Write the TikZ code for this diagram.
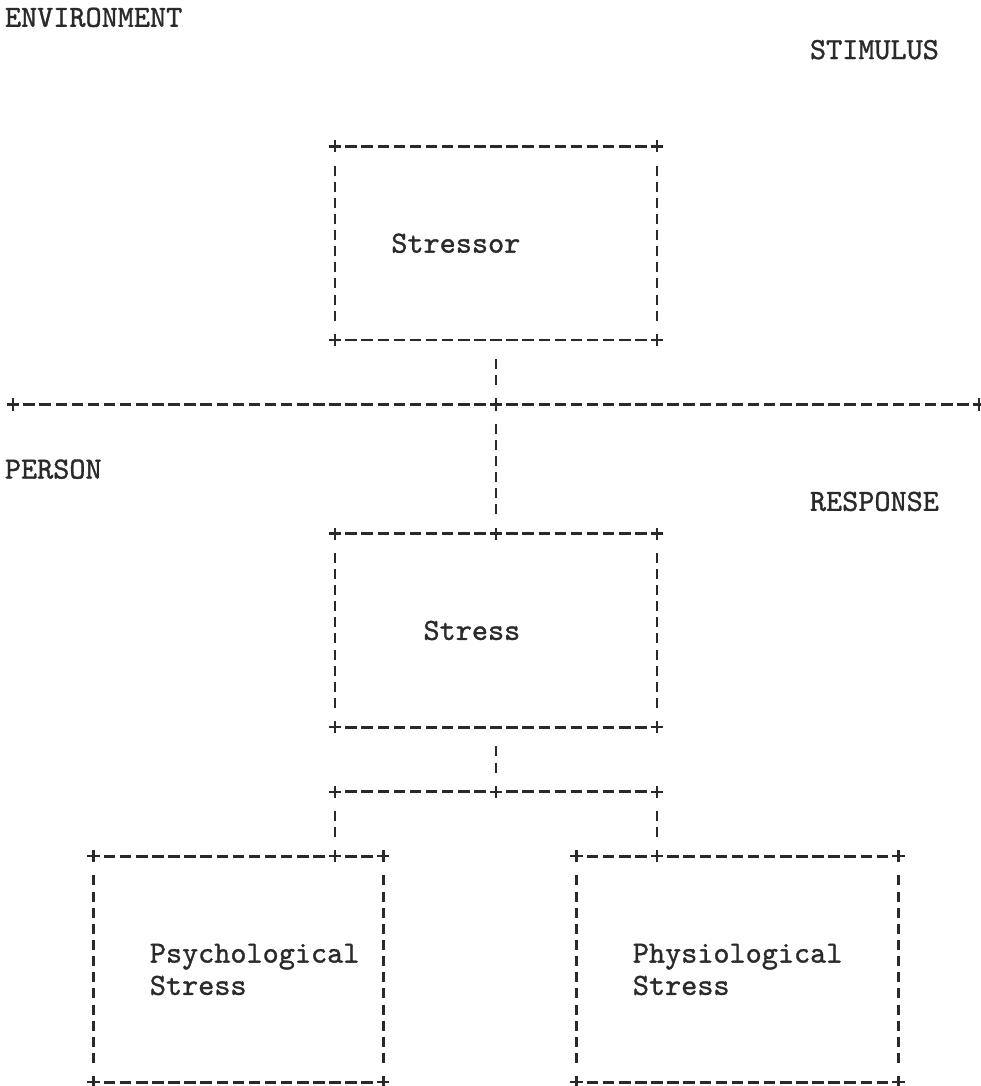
\documentclass[tikz,border=0pt]{standalone}
\usepackage{fontspec}
\usetikzlibrary{shapes.misc}
\newfontfamily\tw{lmmono10-regular.otf}[FakeBold=1.1]
\definecolor{ink}{HTML}{2A2A2A}
\begin{document}
\begin{tikzpicture}[x=1pt,y=-1pt,
  declare function={cx(\c)=13+16.1*\c; ry(\r)=404.5+32.27*\r;},
  txt/.style={anchor=base west,inner sep=0pt,outer sep=0pt,text=ink,font=\tw\fontsize{30.7}{32}\selectfont},
  plus/.style={cross out,draw=ink,line width=2.4pt,rotate=45,minimum size=8.6pt,inner sep=0pt,outer sep=0pt},
  hline/.style={ink,line width=2.8pt,dash pattern=on 11.5pt off 4.6pt,shorten <=10.35pt,shorten >=10.35pt},
  vline/.style={ink,line width=2.6pt,dash pattern=on 10pt off 6.135pt,shorten <=19.2pt,shorten >=19.2pt},
]
\fill[white] (0,0) rectangle (981,1086);
\useasboundingbox (0,0) rectangle (981,1086);

% ---- corner / junction marks ----
\node[plus] (sTL) at ({cx(20)},{ry(-8)}) {};
\node[plus] (sTR) at ({cx(40)},{ry(-8)}) {};
\node[plus] (sBL) at ({cx(20)},{ry(-2)}) {};
\node[plus] (sBR) at ({cx(40)},{ry(-2)}) {};
\coordinate (sBM) at ({cx(30)},{ry(-2)});

\node[plus] (L0) at ({cx(0)},{ry(0)}) {};
\node[plus] (Lm) at ({cx(30)},{ry(0)}) {};
\node[plus] (L60) at ({cx(60)},{ry(0)}) {};

\node[plus] (tTL) at ({cx(20)},{ry(4)}) {};
\node[plus] (tTM) at ({cx(30)},{ry(4)}) {};
\node[plus] (tTR) at ({cx(40)},{ry(4)}) {};
\node[plus] (tBL) at ({cx(20)},{ry(10)}) {};
\node[plus] (tBR) at ({cx(40)},{ry(10)}) {};
\coordinate (tBM) at ({cx(30)},{ry(10)});

\node[plus] (jL) at ({cx(20)},{ry(12)}) {};
\node[plus] (jM) at ({cx(30)},{ry(12)}) {};
\node[plus] (jR) at ({cx(40)},{ry(12)}) {};

\node[plus] (pTL) at ({cx(5)},{ry(14)}) {};
\node[plus] (pTM) at ({cx(20)},{ry(14)}) {};
\node[plus] (pTR) at ({cx(23)},{ry(14)}) {};
\node[plus] (pBL) at ({cx(5)},{ry(21)}) {};
\node[plus] (pBR) at ({cx(23)},{ry(21)}) {};

\node[plus] (qTL) at ({cx(35)},{ry(14)}) {};
\node[plus] (qTM) at ({cx(40)},{ry(14)}) {};
\node[plus] (qTR) at ({cx(55)},{ry(14)}) {};
\node[plus] (qBL) at ({cx(35)},{ry(21)}) {};
\node[plus] (qBR) at ({cx(55)},{ry(21)}) {};

% ---- Stressor box ----
\draw[hline] (sTL.center) -- (sTR.center);
\draw[hline] (sBL.center) -- (sBR.center);
\draw[vline] (sTL.center) -- (sBL.center);
\draw[vline] (sTR.center) -- (sBR.center);

% ---- connector and boundary line ----
\draw[vline] (sBM) -- (Lm.center);
\draw[vline] (Lm.center) -- (tTM.center);
\draw[hline] (L0.center) -- (Lm.center);
\draw[hline] (Lm.center) -- (L60.center);

% ---- Stress box ----
\draw[hline] (tTL.center) -- (tTM.center);
\draw[hline] (tTM.center) -- (tTR.center);
\draw[hline] (tBL.center) -- (tBR.center);
\draw[vline] (tTL.center) -- (tBL.center);
\draw[vline] (tTR.center) -- (tBR.center);

% ---- split ----
\draw[vline] (tBM) -- (jM.center);
\draw[hline] (jL.center) -- (jM.center);
\draw[hline] (jM.center) -- (jR.center);
\draw[vline] (jL.center) -- (pTM.center);
\draw[vline] (jR.center) -- (qTM.center);

% ---- Psychological box ----
\draw[hline] (pTL.center) -- (pTM.center);
\draw[hline] (pTM.center) -- (pTR.center);
\draw[hline] (pBL.center) -- (pBR.center);
\draw[vline] (pTL.center) -- (pBL.center);
\draw[vline] (pTR.center) -- (pBR.center);

% ---- Physiological box ----
\draw[hline] (qTL.center) -- (qTM.center);
\draw[hline] (qTM.center) -- (qTR.center);
\draw[hline] (qBL.center) -- (qBR.center);
\draw[vline] (qTL.center) -- (qBL.center);
\draw[vline] (qTR.center) -- (qBR.center);

% ---- texts ----
\node[txt] (env) at ({cx(0)-8.05},{ry(-12)+9.5}) {ENVIRONMENT};
\node[txt] (stim) at ({cx(50)-8.05},{ry(-11)+9.5}) {STIMULUS};
\node[txt] (stressor) at ({cx(24)-8.05},{ry(-5)+9.5}) {Stressor};
\node[txt] (person) at ({cx(0)-8.05},{ry(2)+9.5}) {PERSON};
\node[txt] (resp) at ({cx(50)-8.05},{ry(3)+9.5}) {RESPONSE};
\node[txt] (stress) at ({cx(26)-8.05},{ry(7)+9.5}) {Stress};
\node[txt] (psyA) at ({cx(9)-8.05},{ry(17)+9.5}) {Psychological};
\node[txt] (psyB) at ({cx(9)-8.05},{ry(18)+9.5}) {Stress};
\node[txt] (phyA) at ({cx(39)-8.05},{ry(17)+9.5}) {Physiological};
\node[txt] (phyB) at ({cx(39)-8.05},{ry(18)+9.5}) {Stress};
\end{tikzpicture}
\end{document}
